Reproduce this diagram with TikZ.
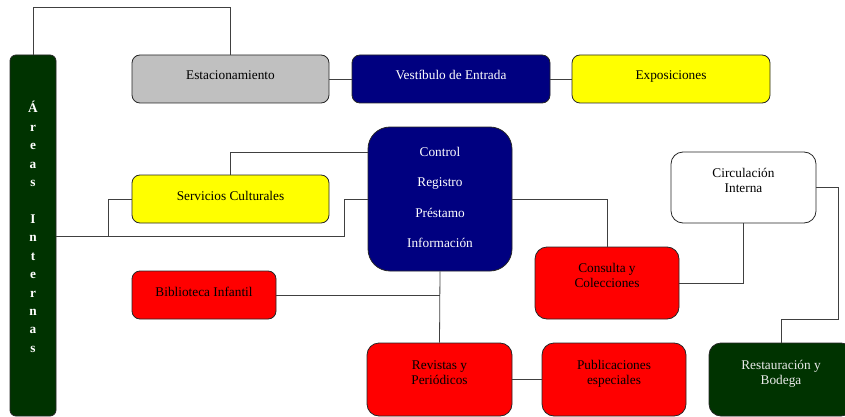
\documentclass[tikz,border=0pt]{standalone}
\usepackage{fontspec}
\setmainfont{Liberation Serif}
\definecolor{boxgray}{HTML}{C0C0C0}
\definecolor{navyblue}{HTML}{000080}
\definecolor{brightyellow}{HTML}{FFFF00}
\definecolor{brightred}{HTML}{FF0000}
\definecolor{darkgreen}{HTML}{003300}
\definecolor{linegray}{HTML}{404040}
\begin{document}
\begin{tikzpicture}[x=1pt,y=-1pt,
  box/.style={draw=black!85, line width=0.8pt, rounded corners=8pt, inner sep=0pt},
  conn/.style={draw=linegray, line width=0.8pt},
  txt/.style={anchor=base, inner sep=0pt, align=center, font=\fontsize{13.3}{15}\selectfont}]
\useasboundingbox (0,0) rectangle (845,417);
% boxes
\node[box, rounded corners=6pt, fill=darkgreen, minimum width=46pt, minimum height=361pt] (areas) at (33,235.5) {};
\node[box, fill=boxgray, minimum width=197pt, minimum height=48pt] (est) at (230.5,79) {};
\node[box, fill=navyblue, minimum width=198pt, minimum height=48pt] (vest) at (451,79) {};
\node[box, fill=brightyellow, minimum width=198pt, minimum height=48pt] (expo) at (671,79) {};
\node[box, rounded corners=22pt, fill=navyblue, minimum width=144pt, minimum height=144pt] (ctrl) at (440,199) {};
\node[box, fill=brightyellow, minimum width=197pt, minimum height=48pt] (serv) at (230.5,199) {};
\node[box, fill=brightred, minimum width=144pt, minimum height=48pt] (bib) at (204,295) {};
\node[box, rounded corners=12pt, fill=white, minimum width=145pt, minimum height=71pt] (circ) at (743.5,187.5) {};
\node[box, rounded corners=12pt, fill=brightred, minimum width=144pt, minimum height=72pt] (cons) at (607,283) {};
\node[box, rounded corners=12pt, fill=brightred, minimum width=145pt, minimum height=73pt] (rev) at (439.5,379.5) {};
\node[box, rounded corners=12pt, fill=brightred, minimum width=144pt, minimum height=73pt] (pub) at (614,379.5) {};
\node[box, rounded corners=12pt, fill=darkgreen, minimum width=144pt, minimum height=73pt] (rest) at (781,379.5) {};
% texts (anchor=base is the baseline of the last line)
\node[txt] (est-t) at (230.5,80) {Estacionamiento};
\node[txt, text=white] (vest-t) at (451,80) {Vestíbulo de Entrada};
\node[txt] (expo-t) at (671,80) {Exposiciones};
\node[txt] (serv-t) at (230.5,200) {Servicios Culturales};
\node[txt] (bib-t) at (204,296) {Biblioteca Infantil};
\node[txt, text=white, font=\fontsize{13.3}{30.5}\selectfont] (ctrl-t) at (440,247.5) {Control\\Registro\\Préstamo\\Información};
\node[txt] (circ-t) at (743.5,192) {Circulación\\Interna};
\node[txt] (cons-t) at (607,287) {Consulta y\\Colecciones};
\node[txt] (rev-t) at (439.5,384) {Revistas y\\Periódicos};
\node[txt] (pub-t) at (614,384) {Publicaciones\\especiales};
\node[txt, text=white!92!black] (rest-t) at (781,384) {Restauración y\\Bodega};
\foreach \ch [count=\i] in {Á,r,e,a,s,{},I,n,t,e,r,n,a,s}
  \node[txt, text=white, font=\fontsize{13.3}{15}\selectfont\bfseries] (areas-\i) at (33,{113+18.4*(\i-1)}) {\ch};
% connectors
\coordinate (topy) at (0,7);
\coordinate (j1) at (108,236);
\coordinate (j2) at (344,236);
\coordinate (j3) at (838,319);
\path[conn] (areas.north) |- (est.north |- topy) -- (est.north);
\path[conn] (est.east) -- (vest.west);
\path[conn] (vest.east) -- (expo.west);
\path[conn] (serv.north) |- (ctrl.west |- 0,152);
\path[conn] (areas.east |- j1) -- (j1) |- (serv.west);
\path[conn] (j1) -- (j2) |- (ctrl.west);
\path[conn] (ctrl.east) -| (cons.north);
\path[conn] (ctrl.south) -- (rev.north);
\path[conn] (bib.east) -- (bib.east -| ctrl.south);
\path[conn] (rev.east) -- (pub.west);
\path[conn] (circ.south) |- (cons.east);
\path[conn] (circ.east) -| (j3) -| (rest.north);
\end{tikzpicture}
\end{document}
